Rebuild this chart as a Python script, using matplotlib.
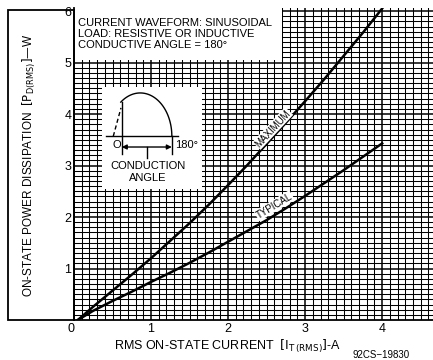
import numpy as np
import matplotlib
matplotlib.use("Agg")
import matplotlib.pyplot as plt
from matplotlib.patches import Rectangle

plt.rcParams['font.family'] = ['Liberation Sans', 'DejaVu Sans']

# Kurven ablesen (I_T in A, P_D in W)
current = [0.05, 0.25, 0.5, 0.75, 1.0, 1.25, 1.5, 1.75, 2.0, 2.25, 2.5, 2.75, 3.0, 3.25, 3.5, 3.75, 4.0]
p_max = [0, 0.26, 0.57, 0.88, 1.2, 1.54, 1.88, 2.24, 2.62, 3.01, 3.42, 3.83, 4.25, 4.68, 5.13, 5.58, 6.05]
p_typ = [0, 0.18, 0.37, 0.55, 0.74, 0.92, 1.11, 1.31, 1.52, 1.73, 1.94, 2.17, 2.41, 2.66, 2.91, 3.17, 3.43]
x_ticks = [0, 1, 2, 3, 4]
y_ticks = [1, 2, 3, 4, 5, 6]
info_lines = ["CURRENT WAVEFORM: SINUSOIDAL",
              "LOAD: RESISTIVE OR INDUCTIVE",
              "CONDUCTIVE ANGLE = 180\u00b0"]

fig = plt.figure(figsize=(4.33, 3.6), dpi=100)
ax = fig.add_axes([74 / 433, 40 / 360, 359 / 433, 312 / 360])
ax.set_xlim(0, 4.66)
ax.set_ylim(0, 6.06)

# Millimeterpapier
ax.set_xticks(x_ticks)
ax.set_yticks(y_ticks)
ax.set_xticks(np.arange(0, 4.7, 0.1), minor=True)
ax.set_yticks(np.arange(0, 6.1, 0.1), minor=True)
ax.set_axisbelow(True)
ax.grid(which='major', color='black', lw=1.1)
ax.grid(which='minor', color='black', lw=0.75)
ax.tick_params(which='both', length=0, labelsize=9, pad=2)
ax.get_xticklabels()[0].set_horizontalalignment('right')
for s in ['top', 'right']:
    ax.spines[s].set_visible(False)
for s in ['left', 'bottom']:
    ax.spines[s].set_linewidth(1.3)

# Kurven
ax.plot(current, p_max, color='black', lw=1.8, zorder=3)
ax.plot(current, p_typ, color='black', lw=1.8, zorder=3)
ax.text(2.58, 3.72, "MAXIMUM", rotation=47, fontsize=7, ha='center', va='center',
        zorder=4, bbox=dict(fc='white', ec='none', pad=0.5))
ax.text(2.60, 2.22, "TYPICAL", rotation=31, fontsize=7, ha='center', va='center',
        zorder=4, bbox=dict(fc='white', ec='none', pad=0.5))

# Infokasten oben
ax.add_patch(Rectangle((0, 5.05), 2.70, 1.1, fc='white', ec='none', zorder=2))
for i, line in enumerate(info_lines):
    ax.text(0.05, 5.77 - i * 0.215, line, fontsize=8, va='center', zorder=3)

# Skizze Leitungswinkel
ax.add_patch(Rectangle((0.36, 2.54), 1.30, 1.98, fc='white', ec='none', zorder=2))
base = 3.57
ax.plot([0.42, 1.35], [base, base], color='black', lw=1.0, zorder=3)
ax.plot([0.51, 0.61], [base, 4.12], color='black', lw=1.0, ls=(0, (3, 2)), zorder=3)
t = np.linspace(np.radians(128), 0, 60)
ax.plot(0.86 + 0.41 * np.cos(t), base + 0.84 * np.sin(t), color='black', lw=1.0, zorder=3)
ax.plot([0.62, 0.62], [3.22, base + 0.84 * np.sin(np.radians(128))], color='black', lw=1.0, zorder=3)
ax.plot([1.27, 1.27], [3.22, base], color='black', lw=1.0, zorder=3)
ax.annotate("", xy=(0.62, 3.36), xytext=(1.27, 3.36), zorder=3,
            arrowprops=dict(arrowstyle='<|-|>', color='black', lw=1.0,
                            shrinkA=0, shrinkB=0, mutation_scale=7))
ax.plot([0.95, 0.95], [3.36, 3.15], color='black', lw=1.0, zorder=3)
ax.text(0.55, 3.40, "O", fontsize=8, ha='center', va='center', zorder=3)
ax.text(1.31, 3.40, "180\u00b0", fontsize=8, ha='left', va='center', zorder=3)
ax.text(0.96, 2.99, "CONDUCTION", fontsize=8, ha='center', va='center', zorder=3)
ax.text(0.96, 2.76, "ANGLE", fontsize=8, ha='center', va='center', zorder=3)

# Beschriftung
fig.text(228 / 433, 1 - 346 / 360, r"RMS ON-STATE CURRENT  $\left[\mathrm{I_{T\,(RMS)}}\right]$-A",
         fontsize=9, ha='center', va='center')
fig.text(29 / 433, 1 - 165 / 360, r"ON-STATE POWER DISSIPATION  $\left[\mathrm{P_{D(RMS)}}\right]$" + "\u2014W",
         fontsize=8.5, rotation=90, ha='center', va='center')
fig.text(381 / 433, 1 - 355 / 360, "92CS\u221219830", fontsize=7, ha='center', va='center')
fig.add_artist(Rectangle((8 / 433, 40 / 360), 66 / 433, 310 / 360, transform=fig.transFigure,
                         fill=False, ec='black', lw=1.3))

fig.savefig("out.png", dpi=100)
